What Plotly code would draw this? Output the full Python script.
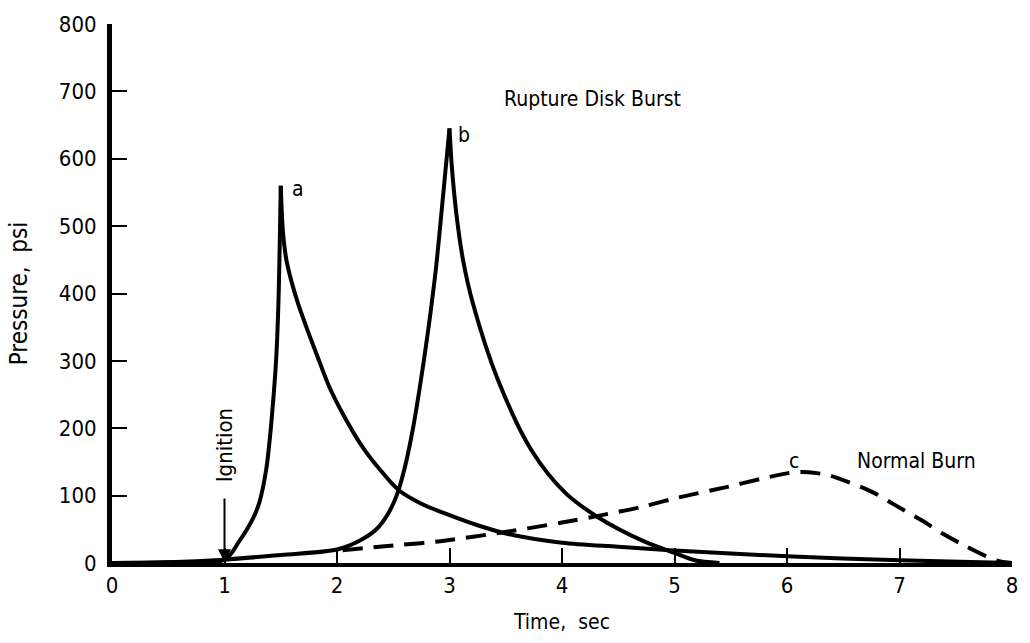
import plotly.graph_objects as go

# Curve a (rupture disk burst, early)
a_t = [0, 0.5, 1.0, 1.13, 1.25, 1.31, 1.37, 1.40, 1.43, 1.46, 1.48, 1.5, 1.52, 1.55, 1.6, 1.66, 1.75, 1.85, 1.93, 2.05, 2.22, 2.4, 2.55, 2.75, 3.0, 3.25, 3.52, 4.0, 4.5, 4.96, 6.0, 7.0, 8.0]
a_p = [0, 1, 5, 32, 65, 90, 138, 180, 235, 305, 390, 560, 490, 450, 415, 382, 340, 296, 262, 222, 174, 135, 108, 88, 71, 56, 43, 30, 24, 19, 10, 4, 0]

# Curve b (rupture disk burst, later)
b_t = [0, 0.5, 1.0, 1.5, 2.0, 2.2, 2.35, 2.45, 2.53, 2.6, 2.67, 2.74, 2.81, 2.88, 2.94, 3.0, 3.02, 3.06, 3.12, 3.21, 3.43, 3.73, 4.03, 4.32, 4.73, 5.0, 5.18, 5.4]
b_p = [0, 1, 5, 12, 20, 33, 50, 72, 100, 140, 195, 265, 345, 438, 540, 645, 590, 520, 450, 384, 272, 167, 104, 68, 32, 15, 4, 0]

# Curve c (normal burn, dashed)
c_t = [2.05, 2.5, 2.9, 3.49, 4.0, 4.32, 4.7, 5.03, 5.47, 5.8, 6.0, 6.15, 6.35, 6.5, 6.75, 6.95, 7.2, 7.39, 7.6, 7.86, 8.0]
c_p = [19, 26, 32, 46, 60, 70, 83, 97, 113, 126, 133, 135, 131, 123, 106, 87, 63, 43, 24, 4, 0]

x_ticks = [0, 1, 2, 3, 4, 5, 6, 7, 8]
y_ticks = [0, 100, 200, 300, 400, 500, 600, 700, 800]

FONT = "Liberation Sans Narrow, DejaVu Sans Condensed, Arial Narrow, sans-serif"

fig = go.Figure()


def add_peaked(ts, ps):
    k = ps.index(max(ps))
    for seg_t, seg_p in ((ts[:k + 1], ps[:k + 1]), (ts[k:], ps[k:])):
        fig.add_trace(go.Scatter(x=seg_t, y=seg_p, mode="lines",
                                 line=dict(color="black", width=4, shape="spline", smoothing=0.9),
                                 showlegend=False, hoverinfo="skip"))


add_peaked(a_t, a_p)
add_peaked(b_t, b_p)
fig.add_trace(go.Scatter(x=c_t, y=c_p, mode="lines",
                         line=dict(color="black", width=4, dash="20px,11px", shape="spline", smoothing=0.9),
                         showlegend=False, hoverinfo="skip"))

annos = [
    dict(x=1.65, y=555, text="a"),
    dict(x=3.13, y=635, text="b"),
    dict(x=6.06, y=152, text="c"),
    dict(x=7.15, y=152, text="Normal Burn"),
    dict(x=4.27, y=688, text="Rupture Disk Burst"),
]
for an in annos:
    fig.add_annotation(x=an["x"], y=an["y"], text=an["text"], showarrow=False,
                       font=dict(family=FONT, size=21, color="black"))

fig.add_annotation(x=1.0, y=174, text="Ignition", showarrow=False, textangle=-90,
                   font=dict(family=FONT, size=22, color="black"))
fig.add_annotation(x=1.0, y=1, ax=1.0, ay=98, axref="x", ayref="y", xref="x", yref="y",
                   text="", showarrow=True, arrowhead=2, arrowsize=1.3, arrowwidth=2,
                   arrowcolor="black")

fig.update_layout(
    width=1030, height=643,
    margin=dict(l=112, r=13, t=13, b=78),
    paper_bgcolor="white", plot_bgcolor="white",
    font=dict(family=FONT, size=21, color="black"),
    xaxis=dict(range=[0, 8], tickvals=x_ticks, ticktext=[str(v) for v in x_ticks],
               showgrid=False, zeroline=False, showline=True, linecolor="black", linewidth=4,
               ticks="inside", ticklen=15, tickwidth=2, tickcolor="black",
               title=dict(text="Time,  sec", standoff=18, font=dict(size=21)),
               tickfont=dict(size=22)),
    yaxis=dict(range=[0, 800], tickvals=y_ticks, ticktext=[str(v) for v in y_ticks],
               showgrid=False, zeroline=False, showline=True, linecolor="black", linewidth=5,
               ticks="inside", ticklen=15, tickwidth=2, tickcolor="black",
               title=dict(text="Pressure,  psi", standoff=26, font=dict(size=24)),
               tickfont=dict(size=22), ticklabelstandoff=6),
)

fig.write_html("out.html")
